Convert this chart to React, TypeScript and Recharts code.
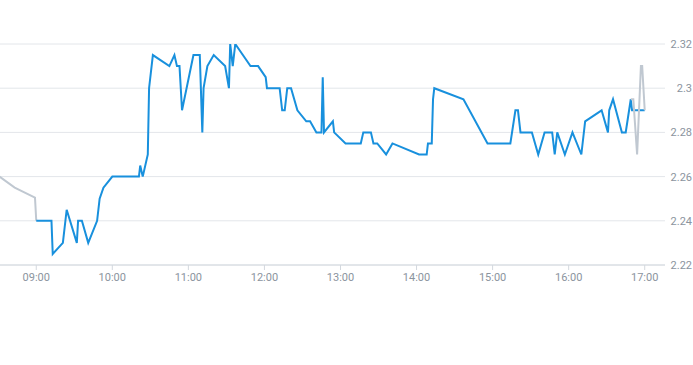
import { LineChart, Line, XAxis, YAxis, CartesianGrid } from "recharts";

// intraday price, regular session (blue)
const blueTimes = [
  "09:00", "09:12", "09:13", "09:21", "09:24", "09:32", "09:33", "09:36", "09:41", "09:48",
  "09:50", "09:53", "10:00", "10:21", "10:22", "10:24", "10:28", "10:29", "10:32", "10:45",
  "10:49", "10:51", "10:53", "10:55", "11:04", "11:09", "11:11", "11:12", "11:15", "11:20",
  "11:29", "11:32", "11:33", "11:35", "11:37", "11:49", "11:55", "12:01", "12:02", "12:12",
  "12:14", "12:16", "12:18", "12:21", "12:26", "12:33", "12:36", "12:41", "12:45", "12:46",
  "12:47", "12:54", "12:55", "13:04", "13:16", "13:18", "13:24", "13:26", "13:29", "13:36",
  "13:41", "14:02", "14:08", "14:09", "14:12", "14:13", "14:14", "14:37", "14:56", "15:14",
  "15:18", "15:20", "15:22", "15:31", "15:36", "15:41", "15:47", "15:49", "15:51", "15:57",
  "16:03", "16:10", "16:13", "16:26", "16:31", "16:32", "16:35", "16:42", "16:45", "16:49",
  "16:50", "17:00",
];
const blueValues = [
  2.24, 2.24, 2.225, 2.23, 2.245, 2.23, 2.24, 2.24, 2.23, 2.24,
  2.25, 2.255, 2.26, 2.26, 2.265, 2.26, 2.27, 2.3, 2.315, 2.31,
  2.315, 2.31, 2.31, 2.29, 2.315, 2.315, 2.28, 2.3, 2.31, 2.315,
  2.31, 2.3, 2.32, 2.31, 2.32, 2.31, 2.31, 2.305, 2.3, 2.3,
  2.29, 2.29, 2.3, 2.3, 2.29, 2.285, 2.285, 2.28, 2.28, 2.305,
  2.28, 2.285, 2.28, 2.275, 2.275, 2.28, 2.28, 2.275, 2.275, 2.27,
  2.275, 2.27, 2.27, 2.275, 2.275, 2.295, 2.3, 2.295, 2.275, 2.275,
  2.29, 2.29, 2.28, 2.28, 2.27, 2.28, 2.28, 2.27, 2.28, 2.27,
  2.28, 2.27, 2.285, 2.29, 2.28, 2.29, 2.295, 2.28, 2.28, 2.295,
  2.29, 2.29,
];

// pre-market and after-hours (grey)
const preTimes = ["08:31", "08:43", "08:59", "09:00"];
const preValues = [2.26, 2.255, 2.2505, 2.24];
const postTimes = ["16:49", "16:51", "16:54", "16:57", "16:58", "16:59", "17:00"];
const postValues = [2.295, 2.295, 2.27, 2.31, 2.31, 2.3, 2.29];

const hourTicks = ["09:00", "10:00", "11:00", "12:00", "13:00", "14:00", "15:00", "16:00", "17:00"];
const priceTicks = [2.22, 2.24, 2.26, 2.28, 2.3, 2.32];

const toMin = (s: string) => {
  const [h, m] = s.split(":").map(Number);
  return h * 60 + m;
};
const fmtTime = (v: number) => {
  const h = Math.floor(v / 60);
  const m = Math.round(v % 60);
  return `${String(h).padStart(2, "0")}:${String(m).padStart(2, "0")}`;
};
const build = (times: string[], values: number[]) =>
  times.map((t, i) => ({ t: toMin(t), v: values[i] }));

const blueData = build(blueTimes, blueValues);
const preData = build(preTimes, preValues);
const postData = build(postTimes, postValues);

const PriceTick = (props: any) => {
  const { x, y, payload } = props;
  return (
    <text x={x + 19} y={y} dy={4} textAnchor="end" fill="#8b949e" fontSize={11} fontFamily="Roboto">
      {String(Number(payload.value.toFixed(2)))}
    </text>
  );
};

export default function App() {
  return (
    <div style={{ position: "absolute", left: 0, top: 0 }}>
      <LineChart width={693} height={365} margin={{ top: 44, right: 0, bottom: 70, left: 0 }}>
        <CartesianGrid vertical={false} stroke="#e3e6ea" />
        <XAxis
          type="number"
          dataKey="t"
          domain={[511.4, 1036]}
          ticks={hourTicks.map(toMin)}
          tickFormatter={fmtTime}
          allowDataOverflow
          stroke="#d3d8de"
          tick={{ fill: "#8b949e", fontSize: 11, fontFamily: "Roboto" }}
          tickSize={5}
          tickMargin={3}
          height={30}
        />
        <YAxis
          orientation="right"
          domain={[2.22, 2.32]}
          ticks={priceTicks}
          axisLine={false}
          tickLine={false}
          width={28}
          tick={<PriceTick />}
          allowDataOverflow
        />
        <Line data={preData} dataKey="v" type="linear" stroke="#c0c8d1" strokeWidth={2} dot={false} isAnimationActive={false} />
        <Line data={blueData} dataKey="v" type="linear" stroke="#1890dd" strokeWidth={2} dot={false} isAnimationActive={false} />
        <Line data={postData} dataKey="v" type="linear" stroke="#c0c8d1" strokeWidth={2} dot={false} isAnimationActive={false} />
      </LineChart>
    </div>
  );
}
